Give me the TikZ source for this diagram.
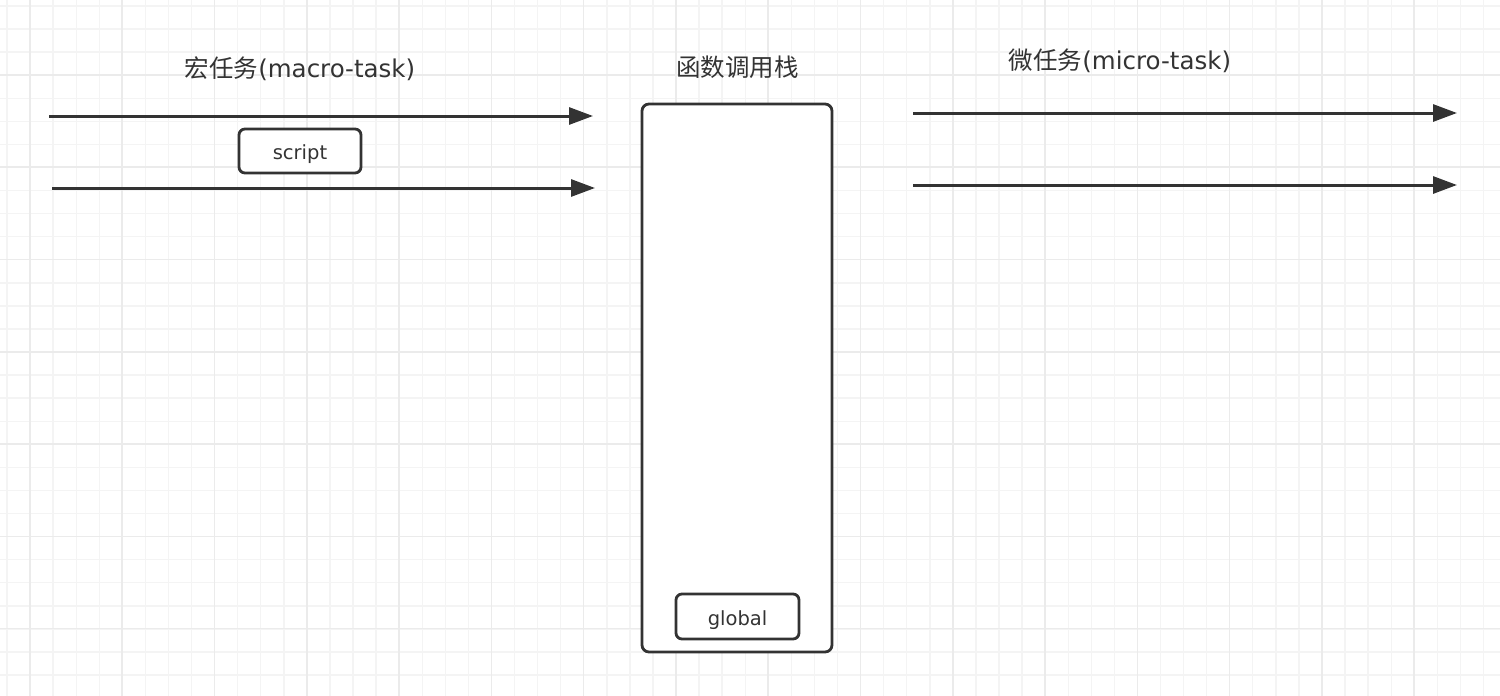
\documentclass[tikz,border=0pt]{standalone}
\usepackage{fontspec}
\setmainfont{DejaVu Sans}
\newfontfamily\cjk{Noto Sans CJK SC}
\usetikzlibrary{arrows.meta}
\definecolor{ink}{HTML}{333333}
\definecolor{gridminor}{HTML}{F4F4F4}
\definecolor{gridmajor}{HTML}{EBEBEB}
\tikzset{
  minorline/.style={draw=gridminor, line width=1.4pt},
  majorline/.style={draw=gridmajor, line width=1.6pt},
  flow/.style={draw=ink, line width=3pt, -{Triangle[length=24pt,width=17pt]}},
  boxnode/.style={draw=ink, line width=2.8pt, rounded corners=6pt, fill=white, text=ink,
    inner sep=0pt, font=\fontsize{19.5}{22}\selectfont},
  titlenode/.style={text=ink, inner sep=0pt, font=\fontsize{24.5}{28}\selectfont}
}
\begin{document}
\begin{tikzpicture}[x=1pt,y=-1pt]
\useasboundingbox (0,0) rectangle (1500,696);
\fill[white] (0,0) rectangle (1500,696);
% grid
\foreach \k in {0,...,65} {
  \pgfmathsetmacro\xx{7+23.07*\k}
  \draw[minorline] (\xx,0) -- (\xx,696);
}
\foreach \k in {0,...,30} {
  \pgfmathsetmacro\yy{6+23.07*\k}
  \draw[minorline] (0,\yy) -- (1500,\yy);
}
\foreach \k in {0,...,16} {
  \pgfmathsetmacro\xx{30+92.28*\k}
  \draw[majorline] (\xx,0) -- (\xx,696);
}
\foreach \k in {0,...,6} {
  \pgfmathsetmacro\yy{75+92.28*\k}
  \draw[majorline] (0,\yy) -- (1500,\yy);
}
% titles
\node[titlenode] (macro) at (300,68.5) {{\cjk 宏任务}(macro-task)};
\node[titlenode] (stacktitle) at (737.5,67) {\cjk 函数调用栈};
\node[titlenode] (micro) at (1120,60.5) {{\cjk 微任务}(micro-task)};
% boxes
\node[boxnode, minimum width=122pt, minimum height=44pt] (script) at (300,151) {\raisebox{-8.5pt}[0pt][0pt]{script}};
\node[boxnode, rounded corners=7pt, minimum width=190pt, minimum height=548pt] (stack) at (737,378) {};
\node[boxnode, minimum width=123pt, minimum height=45pt] (global) at (737.5,616.5) {\raisebox{-8.5pt}[0pt][0pt]{global}};
% arrows
\coordinate (m1s) at (49,116);  \coordinate (m1e) at (593,116);
\coordinate (m2s) at (52,188);  \coordinate (m2e) at (595,188);
\coordinate (u1s) at (913,113); \coordinate (u1e) at (1457,113);
\coordinate (u2s) at (913,185); \coordinate (u2e) at (1457,185);
\draw[flow] (m1s) -- (m1e);
\draw[flow] (m2s) -- (m2e);
\draw[flow] (u1s) -- (u1e);
\draw[flow] (u2s) -- (u2e);
\end{tikzpicture}
\end{document}
